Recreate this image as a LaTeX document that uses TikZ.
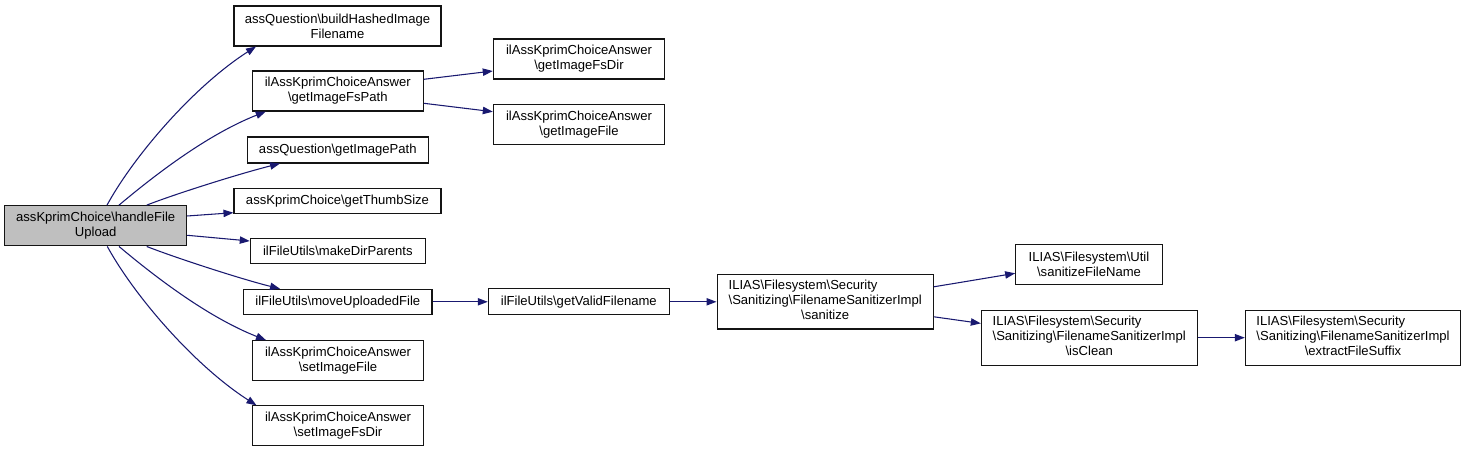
\documentclass[tikz,border=0pt]{standalone}
\usepackage{fontspec}
\setmainfont{Liberation Sans}
\usetikzlibrary{arrows.meta,calc}
\definecolor{edgecol}{RGB}{25,25,112}
\definecolor{rootfill}{RGB}{191,191,191}
\definecolor{boxline}{RGB}{20,20,20}
\newcommand{\bsl}{\textbackslash{}}
\begin{document}
\begin{tikzpicture}[x=0.75pt,y=-0.75pt,
  box/.style={draw=boxline, line width=0.8pt, fill=white, inner sep=0pt, align=center,
    font=\fontsize{9.8}{11.25}\selectfont},
  edge/.style={draw=edgecol, line width=0.8pt, -{Triangle[length=7.5pt,width=5.5pt]}}]
\useasboundingbox (0,0) rectangle (1467,452);
\fill[white] (0,0) rectangle (1467,452);
% nodes
\node[box, fill=rootfill, minimum width=136.5pt, minimum height=30.2pt] (A) at (95.7,225.8) {assKprimChoice\bsl handleFile\\Upload};
\node[box, minimum width=155.25pt, minimum height=30pt] (B) at (337.5,26) {assQuestion\bsl buildHashedImage\\Filename};
\node[box, minimum width=128.25pt, minimum height=30pt] (C) at (337.8,91) {ilAssKprimChoiceAnswer\\\bsl getImageFsPath};
\node[box, minimum width=135.75pt, minimum height=19.5pt] (D) at (337.8,150) {assQuestion\bsl getImagePath};
\node[box, minimum width=155.25pt, minimum height=18.75pt] (E) at (337.5,200.8) {assKprimChoice\bsl getThumbSize};
\node[box, minimum width=131.25pt, minimum height=19pt] (F) at (337.8,251.3) {ilFileUtils\bsl makeDirParents};
\node[box, minimum width=141.25pt, minimum height=18.75pt] (G) at (337.8,301.8) {ilFileUtils\bsl moveUploadedFile};
\node[box, minimum width=128pt, minimum height=29.75pt] (H) at (338,360.5) {ilAssKprimChoiceAnswer\\\bsl setImageFile};
\node[box, minimum width=128pt, minimum height=29.75pt] (I) at (338,425.7) {ilAssKprimChoiceAnswer\\\bsl setImageFsDir};
\node[box, minimum width=128.5pt, minimum height=30pt] (J) at (579,59) {ilAssKprimChoiceAnswer\\\bsl getImageFsDir};
\node[box, minimum width=128.5pt, minimum height=30pt] (K) at (579,124.5) {ilAssKprimChoiceAnswer\\\bsl getImageFile};
\node[box, minimum width=135.75pt, minimum height=19.25pt] (L) at (578.8,301.8) {ilFileUtils\bsl getValidFilename};
\node[box, minimum width=162.25pt, minimum height=40.75pt] (M) at (825.2,301.8) {\begin{tabular}{@{}l@{}}ILIAS\bsl Filesystem\bsl Security\\\bsl Sanitizing\bsl FilenameSanitizerImpl\\\multicolumn{1}{@{}c@{}}{\bsl sanitize}\end{tabular}};
\node[box, minimum width=110pt, minimum height=30pt] (N) at (1089,264.3) {ILIAS\bsl Filesystem\bsl Util\\\bsl sanitizeFileName};
\node[box, minimum width=161.75pt, minimum height=41pt] (O) at (1089.2,337.7) {\begin{tabular}{@{}l@{}}ILIAS\bsl Filesystem\bsl Security\\\bsl Sanitizing\bsl FilenameSanitizerImpl\\\multicolumn{1}{@{}c@{}}{\bsl isClean}\end{tabular}};
\node[box, minimum width=161.5pt, minimum height=41pt] (P) at (1353,337.7) {\begin{tabular}{@{}l@{}}ILIAS\bsl Filesystem\bsl Security\\\bsl Sanitizing\bsl FilenameSanitizerImpl\\\multicolumn{1}{@{}c@{}}{\bsl extractFileSuffix}\end{tabular}};
% edges
\draw[edge] ($(A.north)+(11.3,0)$) .. controls +(28,-51) and +(-61,39) .. ($(B.south)+(-81.5,0)$);
\draw[edge] ($(A.north)+(23.3,0)$) .. controls +(31,-26) and +(-61,24) .. ($(C.south)+(-72,0)$);
\draw[edge] ($(A.north)+(51,0)$) .. controls +(28,-11) and +(-40,10) .. ($(D.south)+(-57.8,0)$);
\draw[edge] ($(A.east)+(0,-9.8)$) -- ($(E.west)+(0,11.9)$);
\draw[edge] ($(A.east)+(0,9.5)$) -- ($(F.west)+(0,-10.3)$);
\draw[edge] ($(A.south)+(51,0)$) .. controls +(28,11) and +(-40,-10) .. ($(G.north)+(-57.8,0)$);
\draw[edge] ($(A.south)+(23.3,0)$) .. controls +(31,26) and +(-61,-24) .. ($(H.north)+(-72,0)$);
\draw[edge] ($(A.south)+(11.6,0)$) .. controls +(28,51) and +(-61,-39) .. ($(I.north)+(-81.5,0)$);
\draw[edge] ($(C.east)+(0,-11.7)$) -- ($(J.west)+(0,12)$);
\draw[edge] ($(C.east)+(0,12.3)$) -- ($(K.west)+(0,-12.8)$);
\draw[edge] (G.east) -- (L.west);
\draw[edge] (L.east) -- (M.west);
\draw[edge] ($(M.east)+(0,-15)$) -- ($(N.west)+(0,9)$);
\draw[edge] ($(M.east)+(0,15)$) -- ($(O.west)+(0,-14.3)$);
\draw[edge] (O.east) -- (P.west);
\end{tikzpicture}
\end{document}
